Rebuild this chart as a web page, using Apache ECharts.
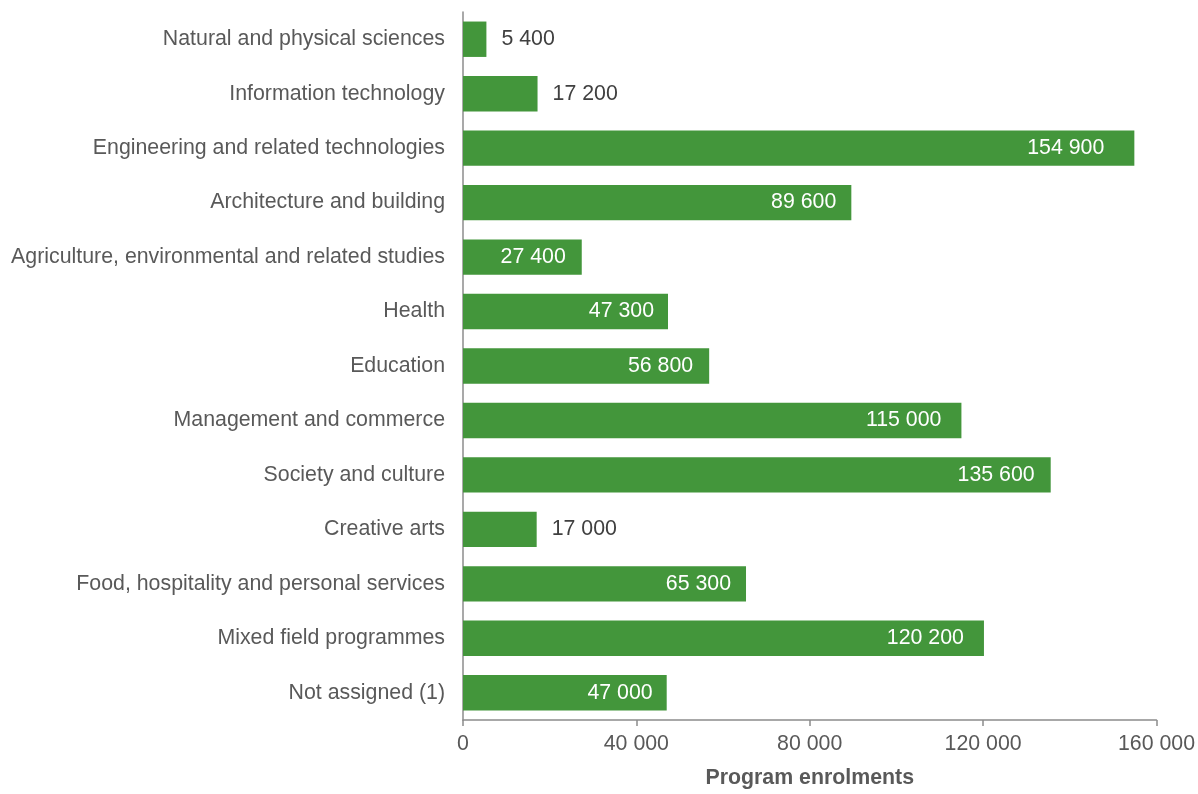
<!DOCTYPE html>
<html><head><meta charset="utf-8">
<script src="https://cdn.jsdelivr.net/npm/echarts@6/dist/echarts.min.js"></script>
<style>html,body{margin:0;padding:0;background:#fff}#c{width:1198px;height:794px}</style>
</head><body><div id="c"></div>
<script>
const categories = [
  "Natural and physical sciences",
  "Information technology",
  "Engineering and related technologies",
  "Architecture and building",
  "Agriculture, environmental and related studies",
  "Health",
  "Education",
  "Management and commerce",
  "Society and culture",
  "Creative arts",
  "Food, hospitality and personal services",
  "Mixed field programmes",
  "Not assigned (1)"
];
const enrolments = [5400, 17200, 154900, 89600, 27400, 47300, 56800, 115000, 135600, 17000, 65300, 120200, 47000];
const xTicks = [0, 40000, 80000, 120000, 160000];
const outsideThreshold = 20000;
// label gap from bar end (style only)
const labelGap = [15, 15, 30, 15, 16, 14, 16, 20, 16, 15, 15, 20, 14];

function fmt(v){ return String(v).replace(/\B(?=(\d{3})+(?!\d))/g, ' '); }

const chart = echarts.init(document.getElementById('c'), null, {renderer:'canvas'});
const font = 'Liberation Sans, Arial, sans-serif';
const fs = 21.33;
chart.setOption({
  animation:false,
  grid:{left:463, right:41, top:12, bottom:70, containLabel:false},
  xAxis:{
    type:'value', min:xTicks[0], max:xTicks[xTicks.length-1], interval:40000,
    name:'Program enrolments', nameLocation:'middle', nameGap:48,
    nameTextStyle:{fontFamily:font, fontSize:fs, fontWeight:'bold', color:'#595959'},
    axisLine:{show:true, lineStyle:{color:'#8c8c8c', width:1.5}},
    axisTick:{show:true, length:6, lineStyle:{color:'#8c8c8c', width:1.5}},
    splitLine:{show:false},
    axisLabel:{fontFamily:font, fontSize:fs, color:'#595959', margin:14, formatter:fmt}
  },
  yAxis:{
    type:'category', data:categories, inverse:true,
    axisLine:{show:true, lineStyle:{color:'#8c8c8c', width:1.5}},
    axisTick:{show:false},
    axisLabel:{fontFamily:font, fontSize:fs, color:'#595959', margin:18}
  },
  series:[{
    type:'bar', barWidth:'65%',
    data: enrolments.map((v,i)=>({
      value:v,
      label:{
        show:true,
        position: v < outsideThreshold ? 'right' : 'insideRight',
        distance: labelGap[i],
        color: v < outsideThreshold ? '#404040' : '#ffffff',
        fontFamily:font, fontSize:fs,
        formatter: p=>fmt(p.value)
      }
    })),
    itemStyle:{color:'#43963b'}
  }]
});
</script></body></html>
